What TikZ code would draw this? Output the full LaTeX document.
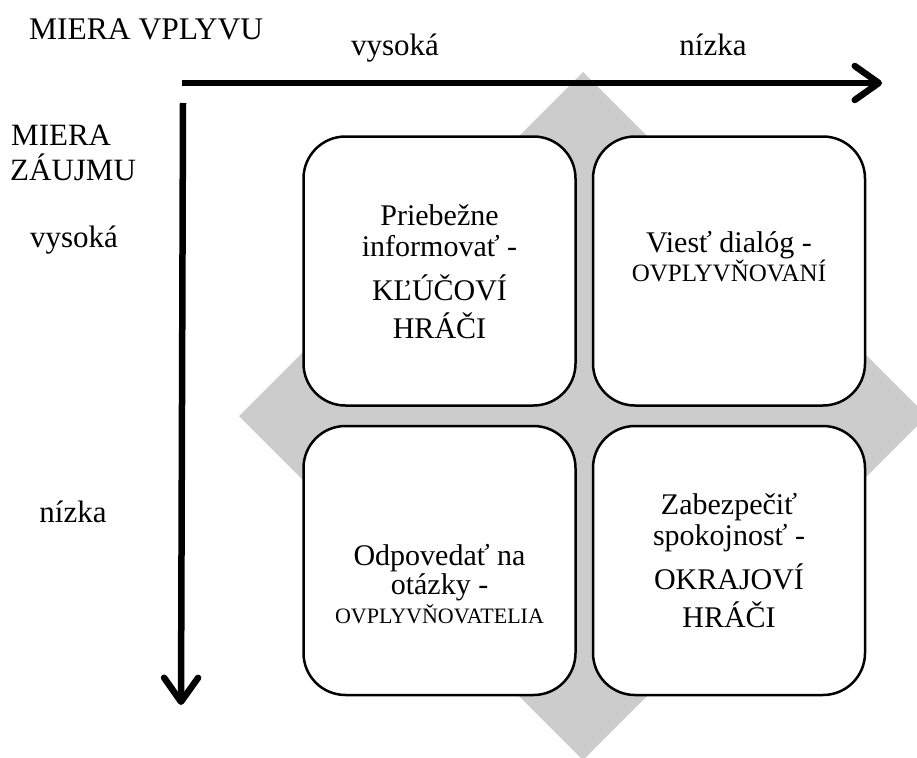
\documentclass[tikz,border=0pt]{standalone}
\usepackage{fontspec}
\setmainfont{Liberation Serif}
\newfontfamily\timesfont{Liberation Serif}
\usetikzlibrary{arrows.meta}
\definecolor{diamondgray}{RGB}{204,204,204}
\tikzset{
  axis/.style={line width=6.5pt, -{Straight Barb[length=24pt,width=34pt,round]}},
  quad/.style={draw=black, line width=2.5pt, fill=white, rounded corners=42pt,
    minimum width=272pt, minimum height=269pt, inner sep=0pt},
  lbl/.style={font=\timesfont\fontsize{31}{34}\selectfont, inner sep=0pt, anchor=base},
  qtxt/.style={font=\timesfont\fontsize{30}{34}\selectfont, inner sep=0pt, anchor=base},
  qcaps/.style={font=\timesfont\fontsize{22}{26}\selectfont, inner sep=0pt, anchor=base}
}
\begin{document}
\begin{tikzpicture}[x=1pt, y=-1pt]
\useasboundingbox (0,0) rectangle (917,757);
\clip (0,0) rectangle (917,757);

% grey diamond behind the four quadrants
\fill[diamondgray] (583,72) -- (927,416) -- (583,760) -- (239,416) -- cycle;

% axes
\coordinate (hstart) at (182,83);
\coordinate (hend) at (882,83);
\coordinate (vstart) at (183,103);
\coordinate (vend) at (181,705);
\draw[axis] (hstart) -- (hend);
\draw[axis] (vstart) -- (vend);

% axis titles and levels
\node[lbl, anchor=base west, font=\timesfont\fontsize{31.5}{34}\selectfont] (vplyv) at (29,40) {MIERA VPLYVU};
\node[lbl] (hvys) at (395,56) {vysoká};
\node[lbl] (hniz) at (713,56) {nízka};
\node[lbl, anchor=base west] (zaujem1) at (11,145) {MIERA};
\node[lbl, anchor=base west] (zaujem2) at (10,180) {ZÁUJMU};
\node[lbl] (vvys) at (74,247) {vysoká};
\node[lbl] (vniz) at (73,522) {nízka};

% four quadrants
\node[quad] (q11) at (439.5,271) {};
\node[quad] (q12) at (729,271) {};
\node[quad] (q21) at (439.5,560.5) {};
\node[quad] (q22) at (729,560.5) {};

% quadrant texts, placed by baseline relative to each box centre
\node[qtxt] (t11a) at ([yshift=46pt]q11.center) {Priebežne};
\node[qtxt] (t11b) at ([yshift=15pt]q11.center) {informovať -};
\node[qtxt] (t11c) at ([yshift=-29pt]q11.center) {KĽÚČOVÍ};
\node[qtxt] (t11d) at ([yshift=-67pt]q11.center) {HRÁČI};

\node[qtxt] (t12a) at ([yshift=19pt]q12.center) {Viesť dialóg -};
\node[qcaps, font=\timesfont\fontsize{25}{28}\selectfont] (t12b) at ([yshift=-10pt]q12.center) {OVPLYVŇOVANÍ};

\node[qtxt] (t21a) at ([yshift=-5pt]q21.center) {Odpovedať na};
\node[qtxt] (t21b) at ([yshift=-34pt]q21.center) {otázky -};
\node[qcaps] (t21c) at ([yshift=-63pt]q21.center) {OVPLYVŇOVATELIA};

\node[qtxt] (t22a) at ([yshift=46pt]q22.center) {Zabezpečiť};
\node[qtxt] (t22b) at ([yshift=15pt]q22.center) {spokojnosť -};
\node[qtxt] (t22c) at ([yshift=-29pt]q22.center) {OKRAJOVÍ};
\node[qtxt] (t22d) at ([yshift=-67pt]q22.center) {HRÁČI};
\end{tikzpicture}
\end{document}
